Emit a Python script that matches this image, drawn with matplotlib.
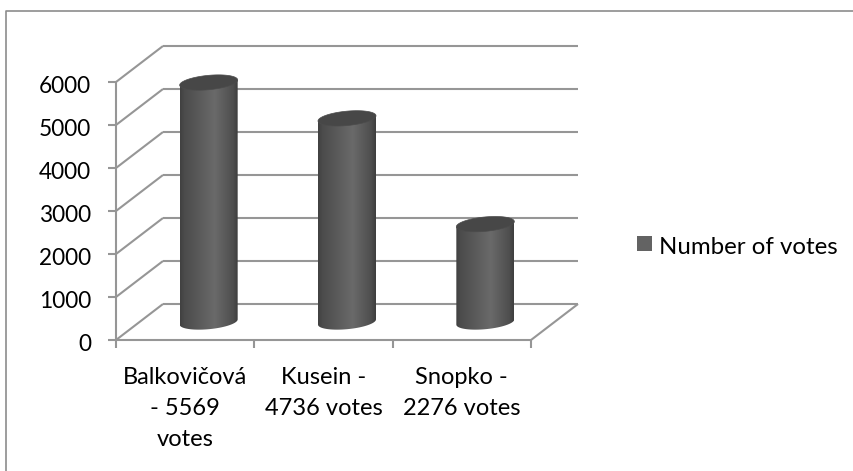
import numpy as np
import matplotlib
matplotlib.use('Agg')
import matplotlib.pyplot as plt
from matplotlib.patches import Polygon, Rectangle
from matplotlib.colors import LinearSegmentedColormap
from matplotlib.lines import Line2D

categories = ['Balkovičová\n- 5569\nvotes', 'Kusein -\n4736 votes', 'Snopko -\n2276 votes']
votes = [5569, 4736, 2276]
yticks = [0, 1000, 2000, 3000, 4000, 5000, 6000]
series_name = 'Number of votes'

W, H = 854, 471
FONT = 'Lato'
GRID = '#969696'
fig = plt.figure(figsize=(W / 100, H / 100), dpi=100, facecolor='white')

# outer frame: only top and left edges are visible
fig.add_artist(Line2D([6.5 / W, 6.5 / W, 1], [0, 1 - 10.5 / H, 1 - 10.5 / H], transform=fig.transFigure,
                      color='#8c8c8c', lw=1.2))

x0, x1, ybot, ytop = 116, 578, 340, 46
ax = fig.add_axes([x0 / W, 1 - ybot / H, (x1 - x0) / W, (ybot - ytop) / H])
px_per_cat = (531 - 116) / 3
px_per_vote = (340 - 82) / 6000
dx = 47 / px_per_cat
dy = 36 / px_per_vote
ax.set_xlim(0, 3 + dx)
ax.set_ylim(0, 6000 + dy)
ax.axis('off')

lk = dict(color=GRID, lw=1.5, clip_on=False, solid_capstyle='butt')
for t in yticks:
    ax.plot([0, dx], [t, t + dy], **lk, zorder=1)
    ax.plot([dx, 3 + dx], [t + dy, t + dy], **lk, zorder=1)
ax.plot([0, 3], [0, 0], **lk, zorder=1)
ax.plot([3, 3 + dx], [0, dy], **lk, zorder=1)
ax.plot([0, 0], [0, 6000], **lk, zorder=1)

# tick marks
tx = 8 / px_per_cat
ty = 8 / px_per_vote
for t in yticks:
    ax.plot([-tx, 0], [t, t], **lk)
    ax.text(-25 / px_per_cat, t - 4.5 / px_per_vote, str(t), ha='right', va='center', fontsize=16.3,
            family=FONT, color='black')
for i in range(4):
    ax.plot([i, i], [0, -ty], **lk)
for i, c in enumerate(categories):
    ax.text(i + 0.5, -27 / px_per_vote, c, ha='center', va='top', fontsize=17,
            family=FONT, color='black', linespacing=1.58)

# cylinders
cmap = LinearSegmentedColormap.from_list('cyl', [(0, '#404040'), (0.08, '#4c4c4c'), (0.6, '#6a6a6a'),
                                                  (0.92, '#4e4e4e'), (1, '#3e3e3e')])
grad = np.linspace(0, 1, 256)[None, :]
ra = 29 / px_per_cat
rb = 7.2 / px_per_vote
shear = 2.6 / px_per_vote
t_lo = np.linspace(np.pi, 2 * np.pi, 60)
t_all = np.linspace(0, 2 * np.pi, 120)
for i, v in enumerate(votes):
    cx = i + 0.5 + dx / 2
    by = dy / 2
    ty_ = by + v
    lo_x = cx + ra * np.cos(t_lo)
    lo_y = by + rb * np.sin(t_lo) + shear * np.cos(t_lo)
    side = np.r_[np.c_[lo_x, lo_y], [[cx + ra, ty_ + shear], [cx - ra, ty_ - shear]]]
    clip = Polygon(side, closed=True, transform=ax.transData, fc='none', ec='none')
    ax.add_patch(clip)
    im = ax.imshow(grad, cmap=cmap, extent=[cx - ra, cx + ra, by - 2 * rb, ty_ + 2 * rb],
                   aspect='auto', zorder=3, vmin=0, vmax=1)
    im.set_clip_path(clip)
    top = np.c_[cx + ra * np.cos(t_all), ty_ + rb * np.sin(t_all) + shear * np.cos(t_all)]
    ax.add_patch(Polygon(top, closed=True, fc='#474747', ec='#4c4c4c', lw=0.5, zorder=4))
ax.set_xlim(0, 3 + dx)
ax.set_ylim(0, 6000 + dy)

# legend
fig.add_artist(Rectangle((637 / W, 1 - 251 / H), 15 / W, 15 / H, transform=fig.transFigure,
                         fc='#636363', ec='none'))
fig.text(659 / W, 1 - 247 / H, series_name, ha='left', va='center', fontsize=17.3, family=FONT,
         color='black')

fig.savefig('out.png', dpi=100)
